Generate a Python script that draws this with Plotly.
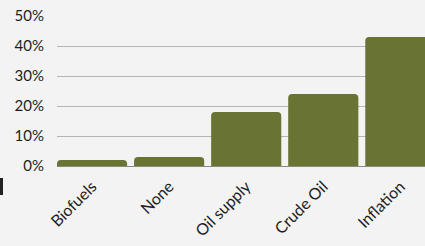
import plotly.graph_objects as go

categories = ["Biofuels", "None", "Oil supply", "Crude Oil", "Inflation"]
values = [0.02, 0.03, 0.18, 0.24, 0.43]
tick_vals = [0, 0.1, 0.2, 0.3, 0.4, 0.5]
tick_text = ["0%", "10%", "20%", "30%", "40%", "50%"]

fig = go.Figure(go.Bar(x=categories, y=values, marker_color="#687334",
                       marker_line_width=0))
fig.update_layout(
    width=425, height=246,
    margin=dict(l=57, r=0, t=16, b=80),
    paper_bgcolor="#f3f3f3", plot_bgcolor="#f3f3f3",
    bargap=0.09, barcornerradius=4,
    font=dict(family="Lato", size=15, color="#1e1e1e"),
    showlegend=False,
)
fig.update_xaxes(range=[-0.455, 4.32], tickangle=-45, showgrid=False,
                 showline=True, linecolor="#888888", linewidth=1, ticks="",
                 automargin=False, ticklabelstandoff=4,
                 tickfont=dict(size=16))
fig.update_yaxes(range=[0, 0.5], tickvals=tick_vals, ticktext=tick_text,
                 showgrid=True, gridcolor="#b5b5b5", gridwidth=1,
                 zeroline=False, ticklabelstandoff=12, automargin=False)
fig.add_shape(type="rect", xref="paper", yref="paper",
              x0=-57/368, x1=-54/368, y0=-29/150, y1=-12/150,
              fillcolor="#222222", line_width=0)
fig.write_html("out.html", config={"displayModeBar": False},
               post_script="document.body.style.margin='0';"
                           "document.body.style.background='#f3f3f3';")
